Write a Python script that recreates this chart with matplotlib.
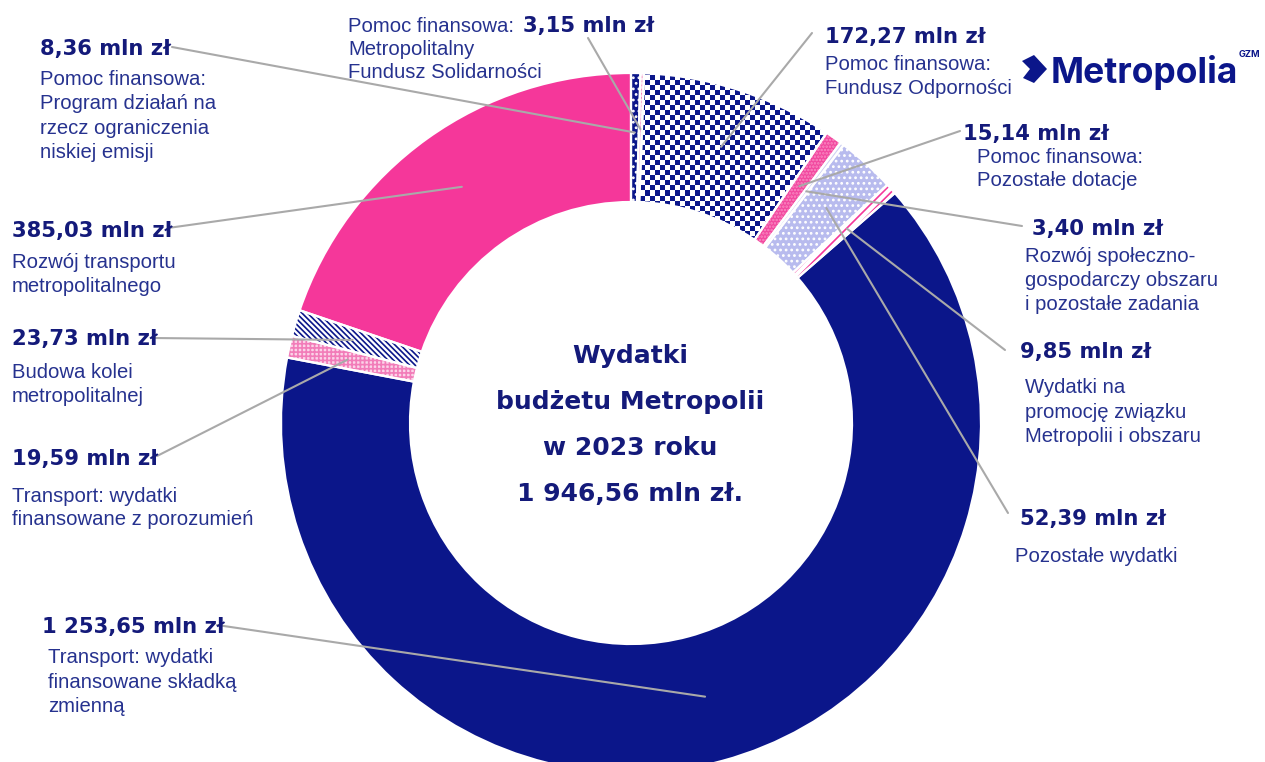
import numpy as np
import matplotlib.pyplot as plt
from matplotlib.colors import ListedColormap
from matplotlib.patches import Polygon

W, H = 1265, 762

plt.rcParams['font.family'] = ['Liberation Sans', 'DejaVu Sans']
plt.rcParams['hatch.linewidth'] = 1.2

navy = '#0b168a'
pink = '#f5379a'
value_color = '#141a7a'
desc_color = '#26328f'
grey = '#a9a9a9'

# budget items, clockwise from 12 o'clock (mln zł)
values = [8.36, 3.15, 172.27, 15.14, 3.40, 52.39, 9.85, 1253.65, 19.59, 23.73, 385.03]
amounts = ['8,36 mln zł', '3,15 mln zł', '172,27 mln zł', '15,14 mln zł', '3,40 mln zł',
           '52,39 mln zł', '9,85 mln zł', '1 253,65 mln zł', '19,59 mln zł',
           '23,73 mln zł', '385,03 mln zł']
descriptions = [
    ['Pomoc finansowa:', 'Program działań na', 'rzecz ograniczenia', 'niskiej emisji'],
    ['Metropolitalny', 'Fundusz Solidarności'],
    ['Pomoc finansowa:', 'Fundusz Odporności'],
    ['Pomoc finansowa:', 'Pozostałe dotacje'],
    ['Rozwój społeczno-', 'gospodarczy obszaru', 'i pozostałe zadania'],
    ['Pozostałe wydatki'],
    ['Wydatki na', 'promocję związku', 'Metropolii i obszaru'],
    ['Transport: wydatki', 'finansowane składką', 'zmienną'],
    ['Transport: wydatki', 'finansowane z porozumień'],
    ['Budowa kolei', 'metropolitalnej'],
    ['Rozwój transportu', 'metropolitalnego'],
]
prefix_315 = 'Pomoc finansowa:'
title_lines = ['Wydatki', 'budżetu Metropolii', 'w 2023 roku', '1 946,56 mln zł.']

# wedge styles
faces = [navy, '#fbd3e8', 'white', '#f2489f', '#d3d5f4', '#b8bbee', 'white',
         navy, '#fbd3e8', 'white', pink]
hatches = ['...', '++++', '', '.....', '', '...', '////', '', '++++', '\\' * 6, '']
hatch_cols = ['white', '#f27cb9', 'white', '#f98cc4', '#d3d5f4', 'white', pink,
              navy, '#f27cb9', navy, pink]

# label layout in pixels (x, baseline y from top)
value_pos = [(40, 55), (523, 32), (825, 43), (963, 140), (1032, 235), (1020, 525),
             (1020, 358), (42, 633), (12, 465), (12, 345), (12, 237)]
desc_pos = [(40, 85), (348, 55), (825, 70), (977, 163), (1025, 262), (1015, 562),
            (1025, 393), (48, 663), (12, 502), (12, 378), (12, 268)]
desc_step = [24.3, 22.5, 24, 23, 24, 24, 24.5, 24.5, 23, 24, 24]
leader_start = [(172, 47), (588, 38), (812, 33), (960, 131), (1022, 226), (1008, 513),
                (1005, 350), (217, 625), (157, 456), (152, 338), (168, 228)]
leader_frac = [0.83, 0.84, 0.83, 0.83, 0.83, 0.83, 0.83, 0.81, 0.83, 0.83, 0.83]

fig = plt.figure(figsize=(W / 100, H / 100), dpi=100)
ax = fig.add_axes([0, 0, 1, 1])

cx, cy = 631, H - 423
R = 350
ring = 129

wedges, _ = ax.pie(values, radius=R, center=(cx, cy), startangle=90, counterclock=False,
                   colors=faces, hatch=hatches, wedgeprops=dict(width=ring, linewidth=0))
for w, hc in zip(wedges, hatch_cols):
    w.set_edgecolor(hc)
    w.set_linewidth(0)
    w.set_zorder(1)

# checkerboard fill for the Fundusz Odpornosci slice
cell = 5.0
yy, xx = np.indices((int(H / cell), int(W / cell)))
checker = (xx + yy) % 2
im = ax.imshow(checker, cmap=ListedColormap(['white', navy]), extent=(0, W, 0, H),
               interpolation='nearest', zorder=1.5)
im.set_clip_path(wedges[2])

# white separators
ax.pie(values, radius=R, center=(cx, cy), startangle=90, counterclock=False,
       wedgeprops=dict(width=ring, facecolor='none', edgecolor='white', linewidth=1.6, zorder=2))

# leader lines
for i, w in enumerate(wedges):
    mid = np.deg2rad((w.theta1 + w.theta2) / 2)
    ex = cx + leader_frac[i] * R * np.cos(mid)
    ey = cy + leader_frac[i] * R * np.sin(mid)
    sx, sy = leader_start[i]
    ax.plot([sx, ex], [H - sy, ey], color=grey, lw=1.5, zorder=4, solid_capstyle='round')

# labels
for i in range(len(values)):
    vx, vy = value_pos[i]
    ax.text(vx, H - vy, amounts[i], fontsize=15.2, fontweight='bold', family='DejaVu Sans',
            color=value_color, ha='left', va='baseline', zorder=5)
    dx, dy = desc_pos[i]
    for j, line in enumerate(descriptions[i]):
        ax.text(dx, H - (dy + j * desc_step[i]), line, fontsize=14.6, color=desc_color,
                ha='left', va='baseline', zorder=5)
ax.text(348, H - 32, prefix_315, fontsize=14.6, color=desc_color, ha='left', va='baseline')

# centre title
for j, line in enumerate(title_lines):
    ax.text(630, H - (363 + j * 46), line, fontsize=18, fontweight='bold', family='DejaVu Sans',
            color=value_color, ha='center', va='baseline')

# logo
ax.add_patch(Polygon([(1022, H - 61), (1034, H - 55), (1047, H - 69), (1034, H - 83),
                      (1023, H - 78), (1030, H - 69)], closed=True, color=navy, lw=0))
ax.text(1051, H - 83, 'Metropolia', fontsize=25.5, fontweight='bold', family='Inter',
        color=navy, ha='left', va='baseline')
ax.text(1239, H - 57, 'GZM', fontsize=6.6, fontweight='bold', family='Inter',
        color=navy, ha='left', va='baseline')

ax.set_xlim(0, W)
ax.set_ylim(0, H)
ax.set_aspect('equal')
ax.axis('off')

fig.savefig('out.png', dpi=100)
